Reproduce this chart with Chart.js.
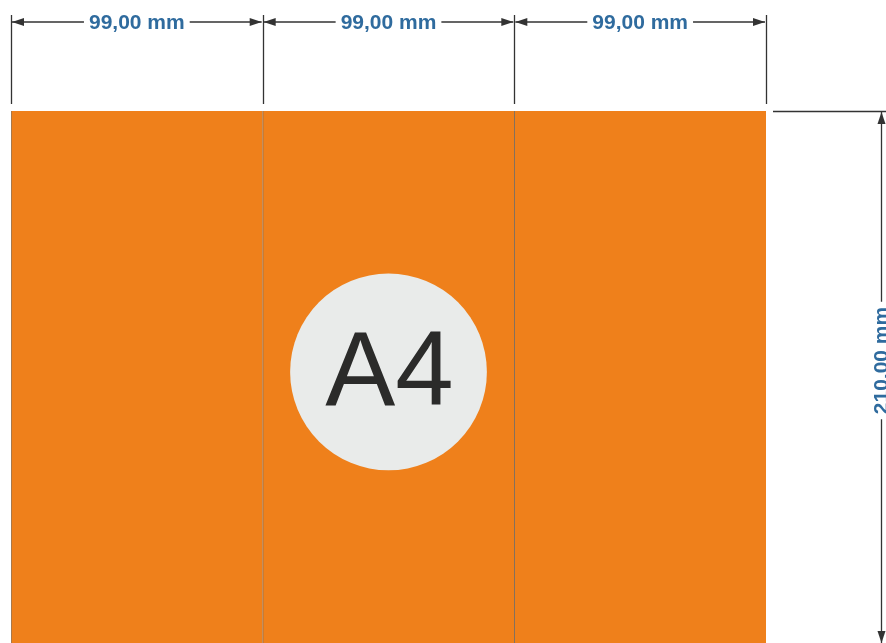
<!DOCTYPE html>
<html lang="en">
<head>
    <meta charset="UTF-8">
    <title>A4 Trifold</title>
    <script src="https://cdn.jsdelivr.net/npm/chart.js"></script>
    <style>
        html, body {
            margin: 0;
            padding: 0;
            background: #ffffff;
            overflow: hidden;
        }
        .chart-box {
            position: relative;
            width: 886px;
            height: 645px;
        }
    </style>
</head>
<body>
    <div class="chart-box">
        <canvas id="fold-chart"></canvas>
    </div>

    <script>
        // panel data (mm)
        const panelNames = ['Panel 1', 'Panel 2', 'Panel 3'];
        const panelWidths = [99, 99, 99];
        const pageHeight = [210, 210, 210];
        const widthLabels = ['99,00 mm', '99,00 mm', '99,00 mm'];
        const heightLabel = '210,00 mm';
        const sizeLabel = 'A4';

        const totalWidth = panelWidths.reduce((a, b) => a + b, 0);

        // fold positions from the widths
        const panelEdges = [0];
        panelWidths.forEach(w => panelEdges.push(panelEdges[panelEdges.length - 1] + w));

        const dimColor = '#333333';
        const textColor = '#2f6b9e';

        function arrowHead(ctx, x, y, dir) {
            // dir = direction the tip points
            const len = 12, half = 4;
            ctx.beginPath();
            if (dir === 'left') {
                ctx.moveTo(x, y); ctx.lineTo(x + len, y - half); ctx.lineTo(x + len, y + half);
            } else if (dir === 'right') {
                ctx.moveTo(x, y); ctx.lineTo(x - len, y - half); ctx.lineTo(x - len, y + half);
            } else if (dir === 'up') {
                ctx.moveTo(x, y); ctx.lineTo(x - half, y + len); ctx.lineTo(x + half, y + len);
            } else {
                ctx.moveTo(x, y); ctx.lineTo(x - half, y - len); ctx.lineTo(x + half, y - len);
            }
            ctx.closePath();
            ctx.fill();
        }

        const dimensionPlugin = {
            id: 'dimensions',
            afterDraw(chart) {
                const ctx = chart.ctx;
                const xs = chart.scales.xmm;
                const ys = chart.scales.y;
                const top = ys.getPixelForValue(210);
                const bottom = ys.getPixelForValue(0);

                ctx.save();

                // circle with A4
                const cx = xs.getPixelForValue(totalWidth / 2);
                const cy = ys.getPixelForValue(107.4);
                const r = xs.getPixelForValue(38.7) - xs.getPixelForValue(0);
                ctx.fillStyle = '#e9ebea';
                ctx.beginPath();
                ctx.arc(cx, cy, r, 0, Math.PI * 2);
                ctx.fill();

                ctx.fillStyle = '#2b2b2a';
                ctx.font = '105px "Liberation Sans", Arial, sans-serif';
                ctx.textAlign = 'center';
                ctx.textBaseline = 'alphabetic';
                ctx.fillText(sizeLabel, cx + 1, cy + 33);

                // width dimensions along the top
                ctx.strokeStyle = dimColor;
                ctx.fillStyle = dimColor;
                ctx.lineWidth = 1.3;
                const dimY = 22;
                panelEdges.forEach(e => {
                    const px = Math.round(xs.getPixelForValue(e)) + 0.5;
                    ctx.beginPath();
                    ctx.moveTo(px, 15);
                    ctx.lineTo(px, top - 7);
                    ctx.stroke();
                });

                ctx.font = 'bold 21px "Liberation Sans", Arial, sans-serif';
                ctx.textBaseline = 'middle';
                panelWidths.forEach((w, i) => {
                    const x0 = xs.getPixelForValue(panelEdges[i]) + 1;
                    const x1 = xs.getPixelForValue(panelEdges[i + 1]) - 1;
                    const mid = (x0 + x1) / 2;
                    const tw = ctx.measureText(widthLabels[i]).width;
                    const gap = 5;
                    ctx.strokeStyle = dimColor;
                    ctx.fillStyle = dimColor;
                    ctx.beginPath();
                    ctx.moveTo(x0, dimY); ctx.lineTo(mid - tw / 2 - gap, dimY);
                    ctx.moveTo(mid + tw / 2 + gap, dimY); ctx.lineTo(x1, dimY);
                    ctx.stroke();
                    arrowHead(ctx, x0, dimY, 'left');
                    arrowHead(ctx, x1, dimY, 'right');
                    ctx.fillStyle = textColor;
                    ctx.fillText(widthLabels[i], mid, dimY + 1);
                });

                // height dimension on the right
                const right = xs.getPixelForValue(totalWidth);
                const hx = 881.5;
                ctx.strokeStyle = dimColor;
                ctx.fillStyle = dimColor;
                ctx.beginPath();
                ctx.moveTo(right + 7, Math.round(top) + 0.5);
                ctx.lineTo(chart.width, Math.round(top) + 0.5);
                ctx.stroke();

                const tw = ctx.measureText(heightLabel).width;
                const midY = 360.5;
                ctx.beginPath();
                ctx.moveTo(hx, top + 1); ctx.lineTo(hx, midY - tw / 2 - 5);
                ctx.moveTo(hx, midY + tw / 2 + 5); ctx.lineTo(hx, bottom - 2);
                ctx.stroke();
                arrowHead(ctx, hx, top + 1, 'up');
                arrowHead(ctx, hx, bottom - 2, 'down');

                ctx.translate(hx + 1, midY);
                ctx.rotate(-Math.PI / 2);
                ctx.fillStyle = textColor;
                ctx.textAlign = 'center';
                ctx.fillText(heightLabel, 0, 0);

                ctx.restore();
            }
        };

        const ctx = document.getElementById('fold-chart').getContext('2d');
        const foldChart = new Chart(ctx, {
            type: 'bar',
            data: {
                labels: panelNames,
                datasets: [{
                    label: 'Panels',
                    data: pageHeight,
                    backgroundColor: '#ef801b',
                    borderColor: 'rgba(120, 100, 80, 0.9)',
                    borderWidth: { left: 1, right: 0, top: 0, bottom: 0 },
                    borderSkipped: false,
                    barPercentage: 1,
                    categoryPercentage: 1
                }]
            },
            options: {
                responsive: true,
                maintainAspectRatio: false,
                animation: false,
                layout: {
                    padding: { left: 11, right: 120, top: 111, bottom: 0 }
                },
                plugins: {
                    legend: { display: false },
                    tooltip: { enabled: false }
                },
                scales: {
                    x: {
                        type: 'category',
                        display: false,
                        offset: true
                    },
                    xmm: {
                        type: 'linear',
                        axis: 'x',
                        display: false,
                        offset: false,
                        grid: { offset: false },
                        min: 0,
                        max: totalWidth
                    },
                    y: {
                        display: false,
                        min: 0,
                        max: 210
                    }
                }
            },
            plugins: [dimensionPlugin]
        });
    </script>
</body>
</html>
